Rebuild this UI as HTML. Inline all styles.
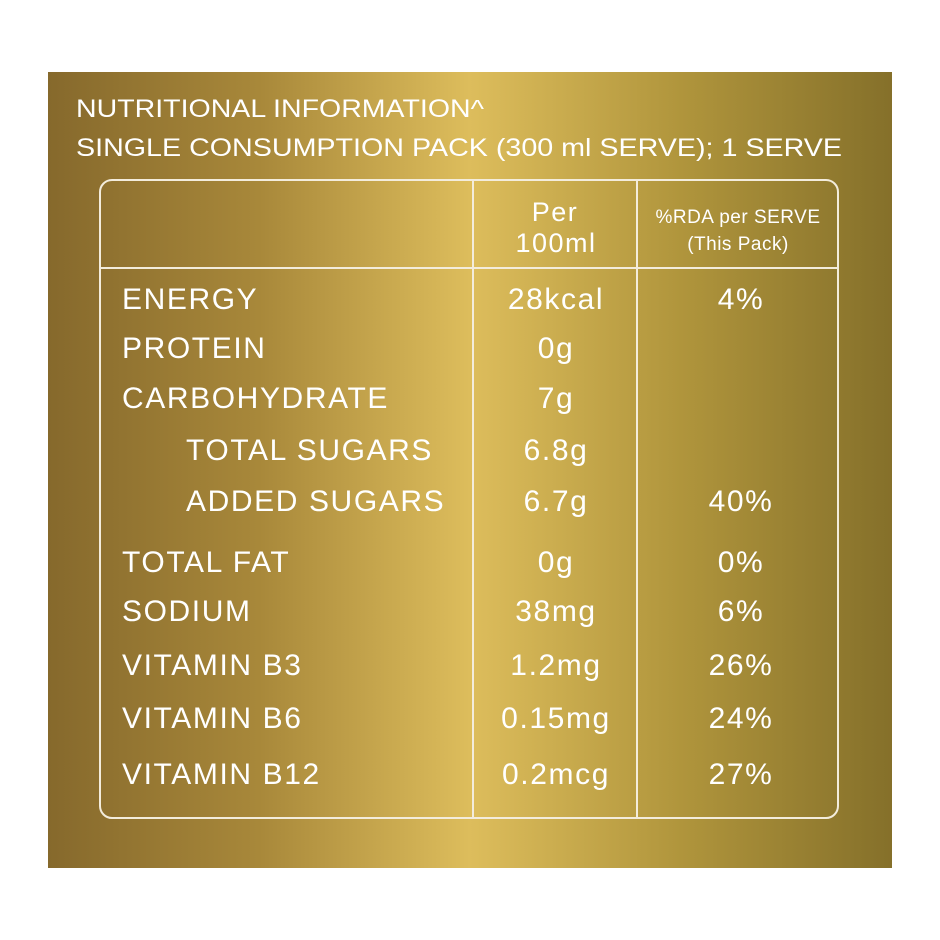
<!DOCTYPE html>
<html><head><meta charset="utf-8"><style>
html,body{margin:0;padding:0;background:#fff;width:940px;height:940px;overflow:hidden}
svg{display:block}
text{font-family:"Liberation Sans",sans-serif;fill:#fff}
#rows text{letter-spacing:1.6px}
</style></head><body>
<svg width="940" height="940">
<defs>
<linearGradient id="g" x1="0" x2="1" y1="0" y2="0">
<stop offset="0" stop-color="#86692c"/>
<stop offset="0.25" stop-color="#a8883a"/>
<stop offset="0.5" stop-color="#ddbd5c"/>
<stop offset="0.75" stop-color="#b0953c"/>
<stop offset="1" stop-color="#85702a"/>
</linearGradient>
</defs>
<rect x="48" y="72" width="844" height="796" fill="url(#g)"/>
<text x="76" y="117" font-size="25" textLength="408" lengthAdjust="spacingAndGlyphs">NUTRITIONAL INFORMATION^</text>
<text x="76" y="156" font-size="25" textLength="766" lengthAdjust="spacingAndGlyphs">SINGLE CONSUMPTION PACK (300 ml SERVE); 1 SERVE</text>
<g stroke="#f3ecdc" stroke-width="2" fill="none">
<rect x="100" y="180" width="738" height="638" rx="12"/>
<line x1="473" y1="180" x2="473" y2="818"/>
<line x1="637" y1="180" x2="637" y2="818"/>
<line x1="100" y1="268" x2="838" y2="268"/>
</g>
<text x="555" y="221" font-size="27" text-anchor="middle" letter-spacing="1.5">Per</text>
<text x="556" y="252" font-size="27" text-anchor="middle" letter-spacing="1.5">100ml</text>
<text x="738" y="223" font-size="19" text-anchor="middle" letter-spacing="0.5">%RDA per SERVE</text>
<text x="738" y="250" font-size="19" text-anchor="middle" letter-spacing="0.5">(This Pack)</text>
<g id="rows"></g>
</svg>
<script>
const labels=["ENERGY","PROTEIN","CARBOHYDRATE","TOTAL SUGARS","ADDED SUGARS","TOTAL FAT","SODIUM","VITAMIN B3","VITAMIN B6","VITAMIN B12"];
const per100=["28kcal","0g","7g","6.8g","6.7g","0g","38mg","1.2mg","0.15mg","0.2mcg"];
const rda=["4%","","","","40%","0%","6%","26%","24%","27%"];
const indent=[0,0,0,1,1,0,0,0,0,0];
const rowY=[309,358,408,460,511,572,621,675,728,784];
const g=document.getElementById('rows');
function t(x,y,s,anchor,name){
 const e=document.createElementNS('http://www.w3.org/2000/svg','text');
 e.setAttribute('x',x);e.setAttribute('y',y);e.setAttribute('font-size',30);
 e.setAttribute('text-anchor',anchor);e.textContent=s;
 
 
 g.appendChild(e);
}
labels.forEach((l,i)=>{
 t(indent[i]?186:122,rowY[i],l,'start','row-label');
 t(556,rowY[i],per100[i],'middle','row-per-100ml');
 if(rda[i])t(741,rowY[i],rda[i],'middle','row-rda');
});
</script>
</body></html>
